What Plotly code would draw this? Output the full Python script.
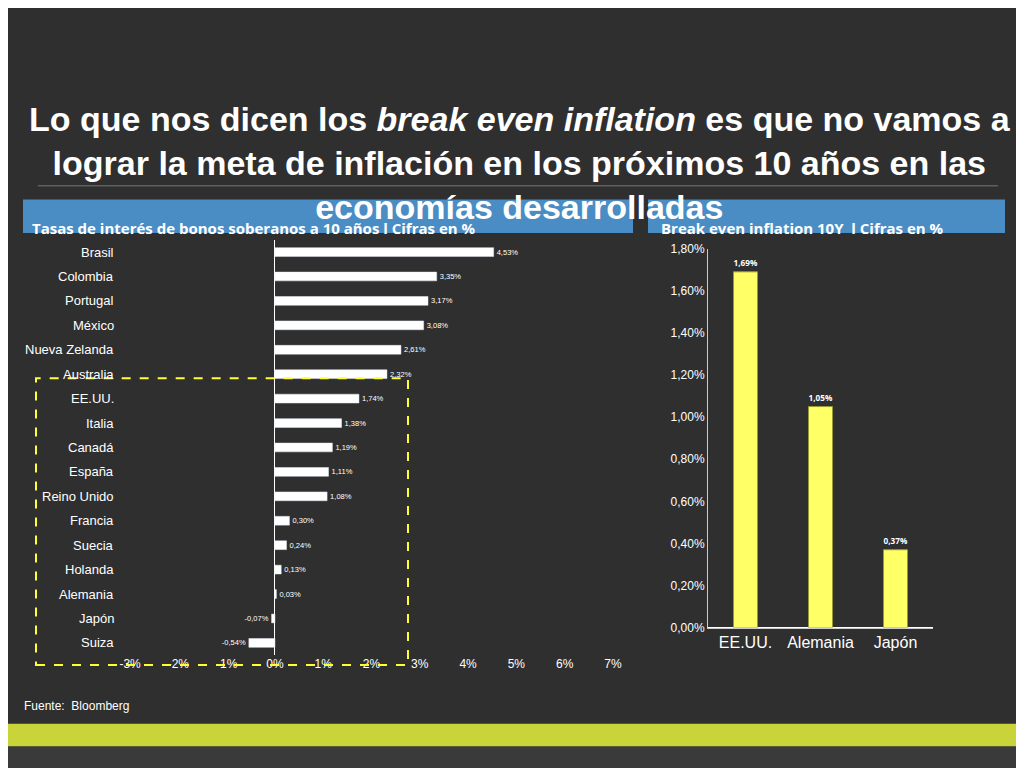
import plotly.graph_objects as go

countries = ["Brasil", "Colombia", "Portugal", "México", "Nueva Zelanda", "Australia", "EE.UU.",
             "Italia", "Canadá", "España", "Reino Unido", "Francia", "Suecia", "Holanda",
             "Alemania", "Japón", "Suiza"]
rates = [4.53, 3.35, 3.17, 3.08, 2.61, 2.32, 1.74, 1.38, 1.19, 1.11, 1.08, 0.30, 0.24, 0.13,
         0.03, -0.07, -0.54]
bei_countries = ["EE.UU.", "Alemania", "Japón"]
bei_values = [1.69, 1.05, 0.37]
x_ticks = list(range(-3, 8))

W, H = 1024, 768
def px(x): return x / W
def py(y): return 1 - y / H

font_n = "Liberation Sans Narrow, Liberation Sans"

fig = go.Figure()
fig.add_trace(go.Bar(
    y=countries, x=rates, orientation="h", marker_color="white", width=0.36,
    text=[f"{v:.2f}%".replace(".", ",") for v in rates], textposition="outside",
    textfont=dict(color="white", size=12, family=font_n),
    cliponaxis=False, xaxis="x", yaxis="y"))
fig.add_trace(go.Bar(
    x=bei_countries, y=bei_values, marker=dict(color="#ffff66", line=dict(color="#999933", width=1)),
    width=0.32, text=[f"<b>{v:.2f}%</b>".replace(".", ",") for v in bei_values], textposition="outside",
    textfont=dict(color="white", size=14, family="Open Sans"), cliponaxis=False,
    xaxis="x2", yaxis="y2"))

fig.update_layout(
    width=W, height=H, margin=dict(l=0, r=0, t=0, b=0), showlegend=False,
    paper_bgcolor="#2f2f2f", plot_bgcolor="rgba(0,0,0,0)", separators=",.",
    font=dict(color="white", family=font_n, size=12),
    xaxis=dict(domain=[px(110), px(617)], range=[-3.25, 7.25], tickvals=x_ticks,
               ticktext=[f"{v}%" for v in x_ticks], showgrid=False, zeroline=True,
               zerolinecolor="white", zerolinewidth=1, anchor="y", ticks=""),
    yaxis=dict(domain=[py(652), py(229)], range=[16.5, -0.5], showgrid=False,
               showticklabels=False, ticks="", anchor="x"),
    xaxis2=dict(domain=[px(700), px(925)], anchor="y2", showline=True, linecolor="#cccccc",
                tickfont=dict(size=16), ticks=""),
    yaxis2=dict(domain=[py(624), py(238)], range=[0, 1.8], dtick=0.2, showgrid=False,
                tickformat=".2f", ticksuffix="%", showline=True, anchor="x2",
                linecolor="#cccccc", ticks="", tickfont=dict(size=12)),
)
# country labels at the left edge
for c in countries:
    fig.add_annotation(x=px(108), y=c, text=c, showarrow=False, xref="paper", yref="y",
                       xanchor="right", font=dict(size=13, color="white", family=font_n))

shapes = [
    dict(type="line", xref="paper", yref="paper", x0=px(30), x1=px(990), y0=py(174), y1=py(174),
         line=dict(color="#777777", width=1)),
    dict(type="rect", xref="paper", yref="paper", x0=px(15), x1=px(625), y0=py(222), y1=py(188),
         fillcolor="#4a8cc4", line_width=0, layer="below"),
    dict(type="rect", xref="paper", yref="paper", x0=px(640), x1=px(997), y0=py(222), y1=py(188),
         fillcolor="#4a8cc4", line_width=0, layer="below"),
    dict(type="rect", xref="paper", yref="paper", x0=px(28), x1=px(400), y0=py(662), y1=py(370),
         line=dict(color="#ffff33", width=2, dash="dash")),
    dict(type="rect", xref="paper", yref="paper", x0=0, x1=1, y0=py(745), y1=py(722),
         fillcolor="#c9d33a", line_width=0, layer="below"),
    dict(type="rect", xref="paper", yref="paper", x0=0, x1=1, y0=0, y1=py(745),
         fillcolor="#3a3a3a", line_width=0, layer="below"),
]
fig.update_layout(shapes=shapes)
fig.add_annotation(x=0.5, y=py(85), xref="paper", yref="paper", showarrow=False,
                   text="<b>Lo que nos dicen los <i>break even inflation</i> es que no vamos a<br>"
                        "lograr la meta de inflación en los próximos 10 años en las<br>economías desarrolladas</b>",
                   font=dict(size=34, color="white", family=font_n), align="center")
fig.add_annotation(x=px(22), y=py(205), xref="paper", yref="paper", showarrow=False, xanchor="left",
                   text="<b>Tasas de interés de bonos soberanos a 10 años l Cifras en %</b>",
                   font=dict(size=15, color="white", family="Open Sans"))
fig.add_annotation(x=px(651), y=py(205), xref="paper", yref="paper", showarrow=False, xanchor="left",
                   text="<b>Break even inflation 10Y  l Cifras en %</b>",
                   font=dict(size=15, color="white", family="Open Sans"))
fig.add_annotation(x=px(14), y=py(713), xref="paper", yref="paper", showarrow=False, xanchor="left",
                   text="Fuente:  Bloomberg", font=dict(size=12, color="white", family="Liberation Sans"))
fig.write_html("out.html")
